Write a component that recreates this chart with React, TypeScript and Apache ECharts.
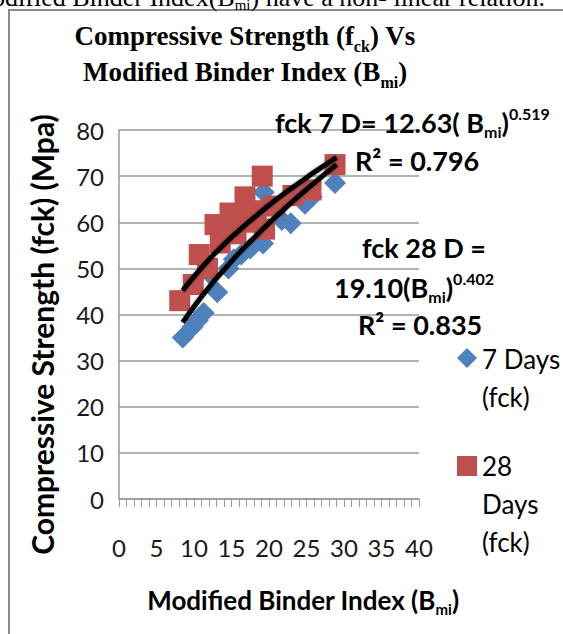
import React, { useEffect, useRef } from "react";
import * as echarts from "echarts";

// ---- data ----
const xTicks = [0, 5, 10, 15, 20, 25, 30, 35, 40];
const yTicks = [0, 10, 20, 30, 40, 50, 60, 70, 80];

const days7X = [8.5, 9.8, 10.5, 11.3, 12.3, 13.1, 14.6, 15.3, 16.3, 17.5, 17.2, 19.2, 19.3, 21.7, 22.9, 24.8, 25.7, 28.8];
const days7Y = [35, 37.3, 38.7, 40.3, 48.5, 44.8, 50, 52, 53, 54.3, 62.5, 55.4, 66.5, 60.5, 59.8, 64, 65.5, 68.5];

const days28X = [8.1, 9.9, 10.7, 11.8, 12.8, 13.5, 14.2, 14.8, 15.6, 16.2, 16.8, 17.5, 18.3, 19.1, 19.4, 20.6, 23.2, 25.6, 28.8];
const days28Y = [43, 46.5, 53, 50, 59.5, 55.5, 58.5, 62, 57.5, 61.5, 65.5, 60, 62.5, 70, 58.5, 63.5, 65.8, 67, 72.5];

const trendX = [8.5, 10, 12, 14, 16, 18, 20, 22, 24, 26, 29];
const trend7Y = [38.3, 41.7, 45.9, 49.7, 53.3, 56.6, 59.8, 62.8, 65.7, 68.5, 72.5];
const trend28Y = [45.2, 48.2, 51.9, 55.2, 58.2, 61.0, 63.7, 66.2, 68.5, 70.8, 74.0];

const seriesNames = ["7 Days (fck)", "28 Days (fck)"];

const zip = (xs: number[], ys: number[]) => xs.map((x, i) => [x, ys[i]]);

const SANS = "Lato, 'Noto Sans', sans-serif";
const SERIF = "'Liberation Serif', 'DejaVu Serif', serif";
const GRID = "#9a9a9a";

const annoRich = {
  b: { fontFamily: SANS, fontWeight: "bold", fontSize: 27, lineHeight: 34, color: "#000" },
  sub: { fontFamily: SANS, fontWeight: "bold", fontSize: 16, lineHeight: 16, verticalAlign: "bottom", color: "#000" },
  sup: { fontFamily: SANS, fontWeight: "bold", fontSize: 16, lineHeight: 16, verticalAlign: "top", color: "#000" },
};

const titleRich = {
  t: { fontFamily: SERIF, fontWeight: "bold", fontSize: 27, lineHeight: 36, color: "#000" },
  s: { fontFamily: SERIF, fontWeight: "bold", fontSize: 16, lineHeight: 16, verticalAlign: "bottom", color: "#000" },
};

export default function App() {
  const ref = useRef<HTMLDivElement>(null);

  useEffect(() => {
    if (!ref.current) return;
    const chart = echarts.init(ref.current, undefined, { renderer: "svg" });

    const anno = (x: number, y: number, text: string) => ({
      type: "text",
      x,
      y,
      style: { text, rich: annoRich, align: "left", verticalAlign: "middle" },
      z: 100,
    });

    const option: any = {
      animation: false,
      backgroundColor: "#ffffff",
      grid: { left: 119, right: 144, top: 130, bottom: 135 },
      xAxis: {
        type: "value",
        min: xTicks[0],
        max: xTicks[xTicks.length - 1],
        interval: xTicks[1] - xTicks[0],
        axisLine: { show: true, onZero: false, lineStyle: { color: GRID, width: 1.5 } },
        axisTick: { show: true, length: 8, lineStyle: { color: GRID, width: 1 } },
        minorTick: { show: true, splitNumber: 5, length: 8, lineStyle: { color: GRID, width: 1 } },
        splitLine: { show: false },
        axisLabel: { margin: 36, fontFamily: SANS, fontSize: 24, color: "#1a1a1a" },
        name: "{t|Modified Binder Index (B}{s|mi}{t|)}",
        nameLocation: "middle",
        nameGap: 85,
        nameTextStyle: {
          padding: [0, 0, 0, 68],
          rich: {
            t: { fontFamily: SANS, fontWeight: "bold", fontSize: 26, lineHeight: 32, color: "#000" },
            s: { fontFamily: SANS, fontWeight: "bold", fontSize: 15, lineHeight: 15, verticalAlign: "bottom", color: "#000" },
          },
        },
      },
      yAxis: {
        type: "value",
        min: yTicks[0],
        max: yTicks[yTicks.length - 1],
        interval: yTicks[1] - yTicks[0],
        axisLine: { show: true, lineStyle: { color: GRID, width: 1.5 } },
        axisTick: { show: false },
        splitLine: { show: true, lineStyle: { color: GRID, width: 1.5 } },
        axisLabel: { margin: 15, fontFamily: SANS, fontSize: 24, color: "#1a1a1a" },
        name: "Compressive Strength (fck) (Mpa)",
        nameLocation: "middle",
        nameRotate: 90,
        nameGap: 62,
        nameTextStyle: {
          fontFamily: SANS,
          fontWeight: "bold",
          fontSize: 30,
          color: "#000",
          padding: [0, 40, 0, 0],
        },
      },
      series: [
        {
          name: seriesNames[0],
          type: "scatter",
          data: zip(days7X, days7Y),
          symbol: "diamond",
          symbolSize: 22,
          itemStyle: { color: "#4F81BD", opacity: 1 },
          z: 2,
        },
        {
          name: seriesNames[1],
          type: "scatter",
          data: zip(days28X, days28Y),
          symbol: "rect",
          symbolSize: 21,
          itemStyle: { color: "#C0504D", opacity: 1 },
          z: 3,
        },
        {
          name: "Power (7 Days (fck))",
          type: "line",
          data: zip(trendX, trend7Y),
          smooth: true,
          showSymbol: false,
          silent: true,
          lineStyle: { color: "#000", width: 5, shadowBlur: 3, shadowColor: "rgba(0,0,0,0.4)" },
          z: 4,
        },
        {
          name: "Power (28 Days (fck))",
          type: "line",
          data: zip(trendX, trend28Y),
          smooth: true,
          showSymbol: false,
          silent: true,
          lineStyle: { color: "#000", width: 5, shadowBlur: 3, shadowColor: "rgba(0,0,0,0.4)" },
          z: 4,
        },
      ],
      graphic: [
        // frame of the pasted figure
        {
          type: "polyline",
          shape: { points: [[9, 634], [9, 10], [563, 10]] },
          style: { stroke: "#8a8a8a", lineWidth: 2, fill: "none" },
          z: 50,
        },
        // cut-off line of the surrounding document text
        {
          type: "text",
          x: 545,
          y: -3,
          style: {
            text: "{t|Modified Binder Index(B}{s|mi}{t|) have a non- linear relation.}",
            rich: {
              t: { fontFamily: SERIF, fontSize: 26, lineHeight: 30, color: "#000" },
              s: { fontFamily: SERIF, fontSize: 15, lineHeight: 15, verticalAlign: "bottom", color: "#000" },
            },
            align: "right",
            verticalAlign: "middle",
          },
          z: 50,
        },
        // chart title
        {
          type: "text",
          x: 245,
          y: 54,
          style: {
            text: "{t|Compressive Strength (f}{s|ck}{t|) Vs}\n{t|Modified Binder Index (B}{s|mi}{t|)}",
            rich: titleRich,
            align: "center",
            verticalAlign: "middle",
          },
          z: 50,
        },
        // trendline equations
        anno(275, 122, "{b|fck 7 D= 12.63( B}{sub|mi}{b|)}{sup|0.519}"),
        anno(355, 160, "{b|R² = 0.796}"),
        anno(362, 247, "{b|fck 28 D =}"),
        anno(334, 287, "{b|19.10(B}{sub|mi}{b|)}{sup|0.402}"),
        anno(358, 324, "{b|R² = 0.835}"),
        // legend
        {
          type: "polygon",
          shape: { points: [[467, 348], [477, 358], [467, 368], [457, 358]] },
          style: { fill: "#4F81BD" },
          z: 50,
        },
        {
          type: "text",
          x: 482,
          y: 340,
          style: {
            text: "7 Days\n(fck)",
            fontFamily: SANS,
            fontSize: 26,
            lineHeight: 38,
            fill: "#000",
            align: "left",
            verticalAlign: "top",
          },
          z: 50,
        },
        {
          type: "rect",
          shape: { x: 457, y: 456, width: 20, height: 20 },
          style: { fill: "#C0504D" },
          z: 50,
        },
        {
          type: "text",
          x: 482,
          y: 447,
          style: {
            text: "28\nDays\n(fck)",
            fontFamily: SANS,
            fontSize: 26,
            lineHeight: 38,
            fill: "#000",
            align: "left",
            verticalAlign: "top",
          },
          z: 50,
        },
      ],
    };

    chart.setOption(option);
    return () => chart.dispose();
  }, []);

  return (
    <div
      ref={ref}
      style={{ position: "absolute", left: 0, top: 0, width: 563, height: 634 }}
    />
  );
}
